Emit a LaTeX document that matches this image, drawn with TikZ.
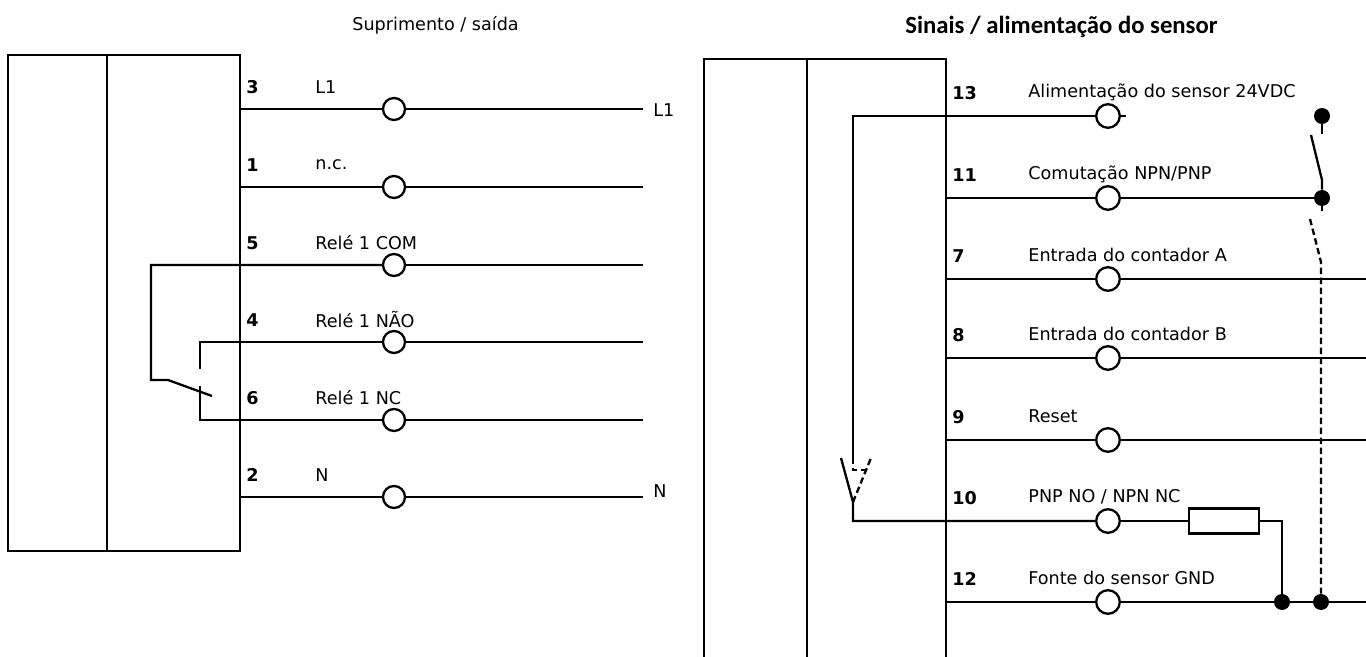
\documentclass[tikz,border=0pt]{standalone}
\usepackage{fontspec}
\setmainfont{DejaVu Sans}
\newfontfamily\titlefont{Carlito}
\begin{document}
\begin{tikzpicture}[x=0.5pt,y=-0.5pt,
  wire/.style={line width=1.15pt,black},
  dwire/.style={line width=1.15pt,black,dash pattern=on 3.2pt off 1.8pt},
  term/.style={circle,draw,line width=1.15pt,fill=white,minimum size=11pt,inner sep=0pt},
  bigterm/.style={term,minimum size=11.8pt},
  dotn/.style={circle,fill=black,minimum size=8pt,inner sep=0pt},
  pin/.style={font=\bfseries\fontsize{8.8}{10}\selectfont,anchor=west,inner sep=0pt},
  lbl/.style={font=\fontsize{8.8}{10}\selectfont,anchor=west,inner sep=0pt},
  res/.style={draw,line width=1.15pt,fill=white,minimum width=35pt,minimum height=12.5pt,inner sep=0pt}]
\useasboundingbox (0,0) rectangle (1366,657);
\fill[white] (0,0) rectangle (1366,657);
% titles
\node[lbl] (t1) at (352,25) {Suprimento / saída};
\node[font=\titlefont\bfseries\fontsize{12.35}{14}\selectfont,anchor=west,inner sep=0pt] (t2) at (905,27) {Sinais / alimentação do sensor};
% left block
\draw[wire] (8,55) rectangle (240,551);
\draw[wire] (107,55) -- (107,551);
\foreach \n/\y/\p/\t in {a/109/3/L1,b/187/1/n.c.,c/265/5/Relé 1 COM,d/342/4/Relé 1 NÃO,e/420/6/Relé 1 NC,f/497/2/N}{
  \coordinate (L\n) at (643,\y);
  \node[term] (T\n) at (394,\y) {};
  \node[pin] (P\n) at (246,\y-22) {\p};
  \node[lbl] (N\n) at (315,\y-22) {\t};
}
\coordinate (Sa) at (240,109); \coordinate (Sb) at (240,187); \coordinate (Sf) at (240,497);
\coordinate (R5) at (151,265); \coordinate (R5b) at (151,380); \coordinate (R5c) at (168,380); \coordinate (R5d) at (212,396);
\coordinate (R4) at (200,342); \coordinate (R4b) at (200,369);
\coordinate (R6) at (200,420); \coordinate (R6b) at (200,386);
\draw[wire] (Sa) -- (Ta); \draw[wire] (Ta) -- (La);
\draw[wire] (Sb) -- (Tb); \draw[wire] (Tb) -- (Lb);
\draw[wire] (Sf) -- (Tf); \draw[wire] (Tf) -- (Lf);
\draw[wire] (Tc) -- (Lc); \draw[wire] (Td) -- (Ld); \draw[wire] (Te) -- (Le);
\draw[wire] (Tc) -- (R5) -- (R5b) -- (R5c) -- (R5d);
\draw[wire] (Td) -- (R4) -- (R4b);
\draw[wire] (Te) -- (R6) -- (R6b);
\node[lbl] (La1) at (653,110) {L1};
\node[lbl] (Ln) at (653,491) {N};
% right block
\draw[wire] (704,657) -- (704,59) -- (946,59) -- (946,657);
\draw[wire] (807,59) -- (807,657);
\foreach \n/\y/\p/\t in {g/116/13/{Alimentação do sensor 24VDC},h/198/11/{Comutação NPN/PNP},i/279/7/{Entrada do contador A},j/358/8/{Entrada do contador B},k/440/9/{Reset},l/521/10/{PNP NO / NPN NC},m/602/12/{Fonte do sensor GND}}{
  \node[bigterm] (T\n) at (1108,\y) {};
  \coordinate (S\n) at (946,\y);
  \coordinate (E\n) at (1366,\y);
  \node[pin] (P\n) at (952,\y-23) {\p};
  \node[lbl] (N\n) at (1028,\y-24) {\t};
}
\node[dotn] (D1) at (1322,116) {};
\node[dotn] (D2) at (1322,198) {};
\node[dotn] (D3) at (1282,602) {};
\node[dotn] (D4) at (1321,602) {};
\node[res] (Rs) at (1224,521) {};
\coordinate (G1) at (853,116); \coordinate (G2) at (853,458); \coordinate (G3) at (853,470);
\coordinate (G4) at (870,470); \coordinate (G5) at (853,502); \coordinate (G6) at (853,521);
\coordinate (G7) at (841,458); \coordinate (G8) at (871,458);
\coordinate (H1) at (1126,116); \coordinate (H2) at (1282,521);
\coordinate (K1) at (1322,134); \coordinate (K2) at (1311,135); \coordinate (K3) at (1322,180);
\coordinate (K4) at (1322,215); \coordinate (K5) at (1310,219); \coordinate (K6) at (1321,262);
\draw[wire] (Tg) -- (H1);
\draw[wire] (Tg) -- (G1) -- (G2);
\draw[dwire] (G2) -- (G3) -- (G4);
\draw[wire] (G7) -- (G5) -- (G6) -- (Tl);
\draw[dwire] (G5) -- (G8);
\draw[wire] (Sh) -- (Th); \draw[wire] (Th) -- (D2);
\draw[wire] (Si) -- (Ti); \draw[wire] (Ti) -- (Ei);
\draw[wire] (Sj) -- (Tj); \draw[wire] (Tj) -- (Ej);
\draw[wire] (Sk) -- (Tk); \draw[wire] (Tk) -- (Ek);
\draw[wire] (Tl) -- (Rs); \draw[wire] (Rs) -- (H2) -- (D3);
\draw[wire] (Sm) -- (Tm); \draw[wire] (Tm) -- (Em);
\draw[wire] (D1) -- (K1);
\draw[wire] (K2) -- (K3) -- (D2);
\draw[wire] (D2) -- (1322,203);
\draw[dwire] (1322,205) -- (K4);
\draw[dwire] (K5) -- (K6) -- (D4);
\end{tikzpicture}
\end{document}
